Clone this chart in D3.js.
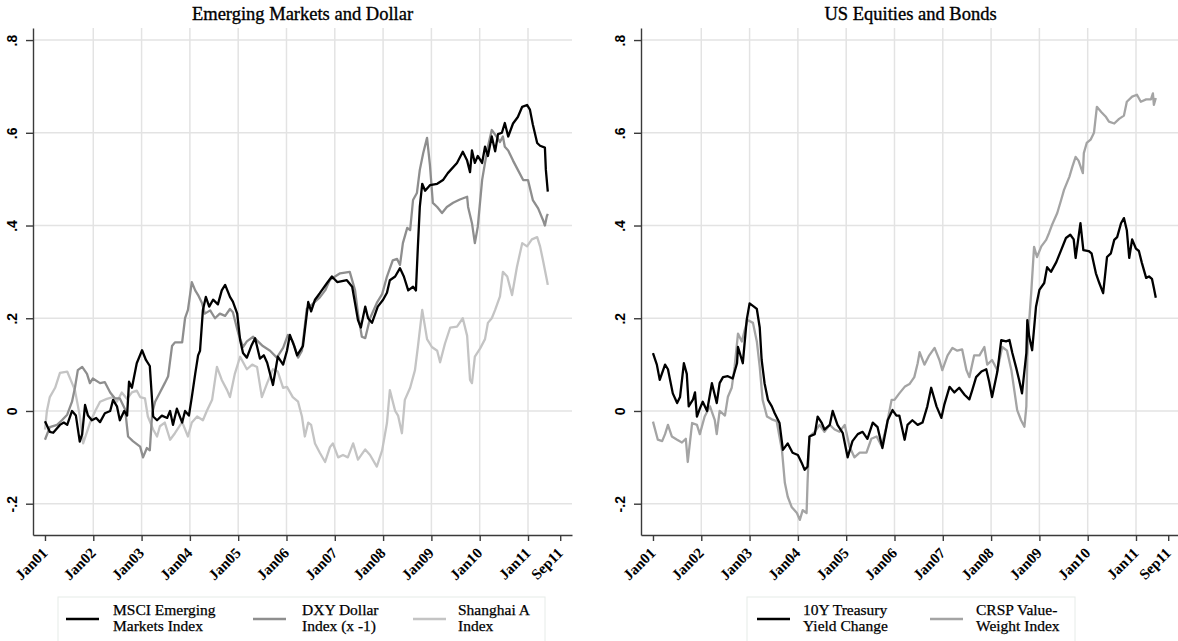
<!DOCTYPE html>
<html>
<head>
<meta charset="utf-8">
<script src="https://cdn.jsdelivr.net/npm/d3@7"></script>
<style>
  body { margin: 0; background: #fff; }
  svg { display: block; }
</style>
</head>
<body>
<svg id="chart" width="1178" height="641"></svg>
<script>
// x axis ticks (decimal years) and their labels
var xTickValues = [2001, 2002, 2003, 2004, 2005, 2006, 2007, 2008, 2009, 2010, 2011, 2011.667];
var xTickLabels = ["Jan01", "Jan02", "Jan03", "Jan04", "Jan05", "Jan06", "Jan07", "Jan08", "Jan09", "Jan10", "Jan11", "Sep11"];
var yTickValues = [-0.2, 0, 0.2, 0.4, 0.6, 0.8];
var yTickLabels = ["-.2", "0", ".2", ".4", ".6", ".8"];

// series: [decimal year, value]
var msci = [
  [2001.00, -0.022], [2001.10, -0.045], [2001.17, -0.047], [2001.31, -0.03], [2001.39, -0.025],
  [2001.46, -0.03], [2001.56, 0.0], [2001.64, -0.01], [2001.72, -0.066], [2001.77, -0.05],
  [2001.83, 0.013], [2001.89, -0.01], [2001.97, -0.02], [2002.06, -0.015], [2002.14, -0.024],
  [2002.24, -0.005], [2002.35, 0.0], [2002.41, 0.024], [2002.49, 0.01], [2002.55, -0.02],
  [2002.64, 0.0], [2002.70, -0.01], [2002.74, 0.063], [2002.80, 0.05], [2002.90, 0.103],
  [2003.01, 0.131], [2003.09, 0.11], [2003.17, 0.097], [2003.24, -0.012], [2003.32, -0.02],
  [2003.42, -0.01], [2003.53, -0.015], [2003.59, 0.0], [2003.65, -0.03], [2003.73, 0.005],
  [2003.84, -0.025], [2003.90, 0.0], [2003.98, -0.01], [2004.04, 0.03], [2004.11, 0.08],
  [2004.17, 0.12], [2004.21, 0.13], [2004.27, 0.218], [2004.33, 0.246], [2004.40, 0.225],
  [2004.48, 0.24], [2004.58, 0.23], [2004.66, 0.26], [2004.73, 0.272], [2004.83, 0.246],
  [2004.89, 0.236], [2004.98, 0.21], [2005.04, 0.153], [2005.10, 0.125], [2005.18, 0.115],
  [2005.27, 0.14], [2005.35, 0.157], [2005.45, 0.113], [2005.53, 0.12], [2005.60, 0.104],
  [2005.72, 0.056], [2005.82, 0.117], [2005.93, 0.1], [2006.01, 0.13], [2006.07, 0.164],
  [2006.16, 0.14], [2006.22, 0.12], [2006.34, 0.14], [2006.45, 0.235], [2006.51, 0.215],
  [2006.59, 0.24], [2006.69, 0.254], [2006.84, 0.276], [2006.94, 0.29], [2007.05, 0.278],
  [2007.15, 0.28], [2007.25, 0.282], [2007.36, 0.268], [2007.42, 0.232], [2007.48, 0.196],
  [2007.54, 0.18], [2007.63, 0.225], [2007.69, 0.2], [2007.77, 0.19], [2007.89, 0.225],
  [2008.00, 0.24], [2008.08, 0.255], [2008.14, 0.282], [2008.25, 0.29], [2008.35, 0.308],
  [2008.43, 0.29], [2008.52, 0.26], [2008.62, 0.268], [2008.68, 0.26], [2008.72, 0.354],
  [2008.76, 0.44], [2008.81, 0.49], [2008.87, 0.475], [2008.97, 0.487], [2009.12, 0.49],
  [2009.24, 0.498], [2009.34, 0.513], [2009.53, 0.535], [2009.65, 0.559], [2009.74, 0.54],
  [2009.80, 0.515], [2009.84, 0.562], [2009.90, 0.535], [2009.96, 0.55], [2010.05, 0.535],
  [2010.11, 0.57], [2010.17, 0.55], [2010.25, 0.592], [2010.32, 0.56], [2010.38, 0.597],
  [2010.46, 0.6], [2010.52, 0.621], [2010.59, 0.592], [2010.69, 0.62], [2010.79, 0.634],
  [2010.88, 0.656], [2010.98, 0.66], [2011.04, 0.65], [2011.10, 0.618], [2011.19, 0.578],
  [2011.25, 0.572], [2011.35, 0.568], [2011.37, 0.52], [2011.41, 0.473]
];

var dxy = [
  [2001.00, -0.062], [2001.10, -0.035], [2001.25, -0.03], [2001.35, -0.02], [2001.46, -0.008],
  [2001.56, 0.02], [2001.62, 0.05], [2001.68, 0.088], [2001.77, 0.095], [2001.87, 0.08],
  [2001.93, 0.06], [2001.99, 0.07], [2002.14, 0.06], [2002.24, 0.062], [2002.35, 0.04],
  [2002.45, 0.027], [2002.55, 0.027], [2002.66, 0.003], [2002.72, -0.055], [2002.82, -0.065],
  [2002.97, -0.077], [2003.03, -0.1], [2003.11, -0.08], [2003.17, -0.085], [2003.22, -0.005],
  [2003.28, 0.02], [2003.38, 0.04], [2003.48, 0.06], [2003.55, 0.075], [2003.63, 0.14],
  [2003.69, 0.148], [2003.84, 0.148], [2003.90, 0.2], [2003.96, 0.218], [2004.04, 0.278],
  [2004.11, 0.26], [2004.17, 0.25], [2004.25, 0.233], [2004.31, 0.21], [2004.42, 0.217],
  [2004.52, 0.2], [2004.62, 0.21], [2004.73, 0.205], [2004.83, 0.22], [2004.89, 0.213],
  [2005.00, 0.168], [2005.10, 0.138], [2005.18, 0.15], [2005.31, 0.16], [2005.41, 0.15],
  [2005.51, 0.14], [2005.66, 0.13], [2005.80, 0.115], [2005.93, 0.136], [2006.03, 0.164],
  [2006.13, 0.15], [2006.24, 0.115], [2006.32, 0.13], [2006.42, 0.22], [2006.53, 0.23],
  [2006.69, 0.245], [2006.80, 0.26], [2006.90, 0.283], [2007.11, 0.297], [2007.31, 0.3],
  [2007.42, 0.26], [2007.48, 0.21], [2007.56, 0.16], [2007.63, 0.157], [2007.73, 0.2],
  [2007.87, 0.233], [2007.98, 0.252], [2008.08, 0.29], [2008.20, 0.325], [2008.29, 0.328],
  [2008.35, 0.315], [2008.41, 0.362], [2008.50, 0.395], [2008.56, 0.39], [2008.62, 0.455],
  [2008.70, 0.47], [2008.76, 0.52], [2008.83, 0.556], [2008.91, 0.589], [2008.97, 0.53],
  [2009.03, 0.449], [2009.12, 0.44], [2009.22, 0.427], [2009.32, 0.44], [2009.45, 0.449],
  [2009.59, 0.456], [2009.74, 0.462], [2009.76, 0.44], [2009.84, 0.405], [2009.90, 0.362],
  [2009.96, 0.397], [2010.05, 0.498], [2010.11, 0.535], [2010.17, 0.57], [2010.25, 0.606],
  [2010.36, 0.59], [2010.42, 0.58], [2010.48, 0.592], [2010.52, 0.57], [2010.59, 0.562],
  [2010.69, 0.54], [2010.79, 0.52], [2010.90, 0.498], [2011.00, 0.498], [2011.10, 0.455],
  [2011.21, 0.437], [2011.31, 0.412], [2011.35, 0.4], [2011.39, 0.42], [2011.41, 0.425]
];

var shanghai = [
  [2001.00, -0.04], [2001.04, 0.0], [2001.10, 0.03], [2001.21, 0.05], [2001.31, 0.082],
  [2001.46, 0.085], [2001.56, 0.06], [2001.62, 0.045], [2001.72, -0.01], [2001.79, -0.07],
  [2001.87, -0.045], [2001.93, -0.026], [2002.04, 0.0], [2002.14, 0.02], [2002.28, 0.026],
  [2002.41, 0.03], [2002.49, 0.02], [2002.59, 0.04], [2002.70, 0.026], [2002.80, 0.04],
  [2002.90, 0.044], [2002.97, 0.03], [2003.07, 0.027], [2003.13, -0.012], [2003.24, -0.04],
  [2003.32, -0.055], [2003.38, -0.033], [2003.48, -0.025], [2003.59, -0.062], [2003.69, -0.048],
  [2003.84, -0.024], [2003.96, -0.055], [2004.04, -0.025], [2004.15, -0.012], [2004.27, -0.02],
  [2004.35, 0.0], [2004.46, 0.024], [2004.56, 0.095], [2004.66, 0.067], [2004.77, 0.045],
  [2004.83, 0.03], [2004.93, 0.08], [2005.04, 0.117], [2005.18, 0.09], [2005.29, 0.1],
  [2005.39, 0.095], [2005.49, 0.03], [2005.60, 0.06], [2005.72, 0.09], [2005.82, 0.085],
  [2005.93, 0.05], [2006.01, 0.052], [2006.13, 0.03], [2006.24, 0.02], [2006.32, -0.012],
  [2006.38, -0.055], [2006.45, -0.025], [2006.51, -0.03], [2006.59, -0.07], [2006.69, -0.09],
  [2006.80, -0.11], [2006.90, -0.078], [2006.96, -0.07], [2007.07, -0.1], [2007.17, -0.095],
  [2007.27, -0.1], [2007.38, -0.07], [2007.48, -0.105], [2007.63, -0.083], [2007.73, -0.095],
  [2007.87, -0.12], [2007.98, -0.085], [2008.08, -0.026], [2008.14, 0.045], [2008.25, 0.0],
  [2008.31, -0.01], [2008.39, -0.048], [2008.45, 0.024], [2008.56, 0.05], [2008.66, 0.088],
  [2008.72, 0.138], [2008.81, 0.218], [2008.91, 0.155], [2009.01, 0.138], [2009.12, 0.13],
  [2009.18, 0.105], [2009.28, 0.145], [2009.39, 0.18], [2009.53, 0.182], [2009.65, 0.2],
  [2009.74, 0.162], [2009.80, 0.067], [2009.84, 0.06], [2009.90, 0.117], [2010.01, 0.135],
  [2010.11, 0.155], [2010.17, 0.19], [2010.25, 0.2], [2010.32, 0.218], [2010.42, 0.247],
  [2010.48, 0.3], [2010.57, 0.29], [2010.67, 0.25], [2010.77, 0.31], [2010.88, 0.362],
  [2010.98, 0.355], [2011.08, 0.37], [2011.19, 0.375], [2011.25, 0.355], [2011.31, 0.325],
  [2011.39, 0.283], [2011.41, 0.272]
];

var treasury = [
  [2001.00, 0.125], [2001.08, 0.1], [2001.14, 0.067], [2001.25, 0.1], [2001.31, 0.09],
  [2001.41, 0.038], [2001.50, 0.017], [2001.56, 0.03], [2001.64, 0.103], [2001.70, 0.08],
  [2001.74, 0.01], [2001.83, 0.025], [2001.87, 0.04], [2001.91, -0.012], [2001.97, 0.005],
  [2002.03, 0.02], [2002.12, 0.0], [2002.22, 0.06], [2002.32, 0.017], [2002.38, 0.06],
  [2002.45, 0.073], [2002.55, 0.075], [2002.65, 0.07], [2002.74, 0.103], [2002.76, 0.138],
  [2002.86, 0.103], [2002.94, 0.196], [2003.00, 0.232], [2003.09, 0.225], [2003.15, 0.22],
  [2003.21, 0.18], [2003.25, 0.11], [2003.31, 0.06], [2003.38, 0.024], [2003.46, 0.01],
  [2003.52, -0.005], [2003.62, -0.026], [2003.69, -0.084], [2003.79, -0.07], [2003.89, -0.09],
  [2004.00, -0.095], [2004.08, -0.112], [2004.14, -0.127], [2004.20, -0.12], [2004.24, -0.055],
  [2004.35, -0.05], [2004.41, -0.012], [2004.49, -0.025], [2004.55, -0.04], [2004.66, -0.03],
  [2004.72, 0.0], [2004.82, -0.03], [2004.93, -0.048], [2005.03, -0.1], [2005.13, -0.065],
  [2005.24, -0.05], [2005.34, -0.045], [2005.44, -0.06], [2005.55, -0.025], [2005.65, -0.035],
  [2005.75, -0.08], [2005.86, -0.02], [2005.96, 0.002], [2006.04, -0.01], [2006.10, -0.01],
  [2006.21, -0.062], [2006.27, -0.03], [2006.37, -0.02], [2006.48, -0.03], [2006.58, -0.025],
  [2006.68, 0.01], [2006.76, 0.05], [2006.87, 0.01], [2006.97, -0.015], [2007.03, 0.013],
  [2007.14, 0.052], [2007.24, 0.04], [2007.34, 0.05], [2007.45, 0.035], [2007.55, 0.025],
  [2007.61, 0.045], [2007.69, 0.073], [2007.80, 0.085], [2007.90, 0.09], [2007.96, 0.063],
  [2008.02, 0.03], [2008.13, 0.085], [2008.21, 0.153], [2008.31, 0.15], [2008.38, 0.153],
  [2008.44, 0.125], [2008.52, 0.093], [2008.58, 0.067], [2008.64, 0.038], [2008.73, 0.125],
  [2008.75, 0.196], [2008.79, 0.16], [2008.85, 0.131], [2008.93, 0.225], [2009.00, 0.261],
  [2009.10, 0.276], [2009.16, 0.31], [2009.24, 0.3], [2009.35, 0.321], [2009.45, 0.347],
  [2009.55, 0.373], [2009.64, 0.38], [2009.71, 0.37], [2009.75, 0.33], [2009.81, 0.375],
  [2009.85, 0.405], [2009.91, 0.347], [2010.02, 0.345], [2010.08, 0.34], [2010.17, 0.297],
  [2010.24, 0.276], [2010.32, 0.254], [2010.40, 0.332], [2010.48, 0.34], [2010.55, 0.369],
  [2010.61, 0.375], [2010.69, 0.405], [2010.75, 0.416], [2010.81, 0.39], [2010.86, 0.33],
  [2010.92, 0.37], [2011.00, 0.35], [2011.06, 0.345], [2011.12, 0.32], [2011.21, 0.287],
  [2011.27, 0.29], [2011.33, 0.285], [2011.37, 0.265], [2011.41, 0.244]
];

var crsp = [
  [2001.00, -0.023], [2001.10, -0.062], [2001.19, -0.065], [2001.25, -0.05], [2001.31, -0.03],
  [2001.39, -0.055], [2001.50, -0.062], [2001.60, -0.068], [2001.68, -0.06], [2001.72, -0.11],
  [2001.81, -0.026], [2001.91, -0.03], [2001.97, -0.05], [2002.07, -0.012], [2002.18, 0.01],
  [2002.28, -0.02], [2002.32, -0.05], [2002.38, 0.0], [2002.49, -0.01], [2002.55, 0.03],
  [2002.63, 0.05], [2002.69, 0.095], [2002.76, 0.167], [2002.84, 0.15], [2002.90, 0.175],
  [2002.96, 0.196], [2003.07, 0.19], [2003.15, 0.15], [2003.21, 0.095], [2003.27, 0.024],
  [2003.36, -0.012], [2003.46, -0.018], [2003.56, -0.022], [2003.67, -0.084], [2003.73, -0.155],
  [2003.79, -0.185], [2003.87, -0.207], [2003.98, -0.22], [2004.04, -0.235], [2004.10, -0.214],
  [2004.18, -0.22], [2004.20, -0.155], [2004.24, -0.055], [2004.35, -0.045], [2004.45, -0.03],
  [2004.55, -0.045], [2004.66, -0.03], [2004.76, -0.04], [2004.86, -0.045], [2004.97, -0.03],
  [2005.07, -0.077], [2005.17, -0.1], [2005.28, -0.09], [2005.42, -0.09], [2005.52, -0.06],
  [2005.63, -0.055], [2005.73, -0.075], [2005.83, -0.035], [2005.94, 0.024], [2006.00, 0.024],
  [2006.10, 0.038], [2006.21, 0.052], [2006.31, 0.058], [2006.41, 0.073], [2006.48, 0.103],
  [2006.52, 0.127], [2006.62, 0.1], [2006.72, 0.12], [2006.83, 0.136], [2006.93, 0.11],
  [2006.99, 0.088], [2007.10, 0.12], [2007.20, 0.136], [2007.30, 0.13], [2007.40, 0.133],
  [2007.49, 0.088], [2007.55, 0.073], [2007.65, 0.12], [2007.76, 0.12], [2007.86, 0.138],
  [2007.92, 0.1], [2008.02, 0.11], [2008.13, 0.088], [2008.23, 0.138], [2008.33, 0.13],
  [2008.42, 0.088], [2008.48, 0.045], [2008.54, 0.002], [2008.62, -0.02], [2008.69, -0.034],
  [2008.73, 0.01], [2008.75, 0.117], [2008.79, 0.196], [2008.83, 0.254], [2008.89, 0.354],
  [2008.95, 0.332], [2009.04, 0.355], [2009.14, 0.369], [2009.20, 0.384], [2009.26, 0.401],
  [2009.37, 0.427], [2009.45, 0.455], [2009.51, 0.477], [2009.62, 0.505], [2009.68, 0.526],
  [2009.75, 0.548], [2009.81, 0.54], [2009.90, 0.513], [2009.92, 0.556], [2009.98, 0.578],
  [2010.06, 0.585], [2010.13, 0.6], [2010.19, 0.656], [2010.28, 0.645], [2010.38, 0.634],
  [2010.44, 0.624], [2010.55, 0.62], [2010.65, 0.63], [2010.75, 0.637], [2010.81, 0.667],
  [2010.92, 0.678], [2011.02, 0.682], [2011.10, 0.667], [2011.21, 0.672], [2011.31, 0.672],
  [2011.35, 0.685], [2011.37, 0.66], [2011.41, 0.675]
];

var panels = [
  {
    title: "Emerging Markets and Dollar",
    left: 33,
    series: [
      { data: shanghai, color: "#c4c4c4", label: ["Shanghai A", "Index"] },
      { data: dxy, color: "#8e8e8e", label: ["DXY Dollar", "Index (x -1)"] },
      { data: msci, color: "#000000", label: ["MSCI Emerging", "Markets Index"] }
    ],
    legendOrder: [2, 1, 0],
    legendBox: [58, 545],
    legendLines: [66, 253, 413],
    legendText: [113, 302, 458]
  },
  {
    title: "US Equities and Bonds",
    left: 641,
    series: [
      { data: crsp, color: "#a4a4a4", label: ["CRSP Value-", "Weight Index"] },
      { data: treasury, color: "#000000", label: ["10Y Treasury", "Yield Change"] }
    ],
    legendOrder: [1, 0],
    legendBox: [747, 1075],
    legendLines: [757, 930],
    legendText: [803, 976]
  }
];

var svg = d3.select("#chart");
var plotTop = 28, plotBottom = 535, plotWidth = 539;
var serif = "'Liberation Serif', 'Times New Roman', serif";

function drawPanel(p) {
  var x = d3.scaleLinear().domain([2000.752, 2011.911]).range([p.left, p.left + plotWidth]);
  var y = d3.scaleLinear().domain([-0.2675, 0.826]).range([plotBottom, plotTop]);
  var g = svg.append("g");

  // Horizontal grid lines
  g.selectAll("line.hgrid")
    .data(yTickValues)
    .enter()
    .append("line")
    .attr("class", "hgrid")
    .attr("x1", p.left)
    .attr("x2", p.left + plotWidth)
    .attr("y1", function (d) { return y(d); })
    .attr("y2", function (d) { return y(d); })
    .style("stroke", "#e3e3e3")
    .style("stroke-width", 1.5);

  // Vertical grid lines, only at the inner January ticks
  g.selectAll("line.vgrid")
    .data(xTickValues.slice(1, 11))
    .enter()
    .append("line")
    .attr("class", "vgrid")
    .attr("x1", function (d) { return x(d); })
    .attr("x2", function (d) { return x(d); })
    .attr("y1", plotTop)
    .attr("y2", plotBottom)
    .style("stroke", "#e3e3e3")
    .style("stroke-width", 1.5);

  // Series lines
  var line = d3.line()
    .x(function (d) { return x(d[0]); })
    .y(function (d) { return y(d[1]); });

  g.selectAll("path.series")
    .data(p.series)
    .enter()
    .append("path")
    .attr("class", "series")
    .attr("d", function (s) { return line(s.data); })
    .style("fill", "none")
    .style("stroke", function (s) { return s.color; })
    .style("stroke-width", 2.3)
    .style("stroke-linejoin", "round");

  // Y axis
  var yAxis = g.append("g")
    .attr("transform", "translate(" + p.left + ",0)")
    .call(d3.axisLeft(y)
      .tickValues(yTickValues)
      .tickFormat(function (d, i) { return yTickLabels[i]; })
      .tickSize(7)
      .tickSizeOuter(0));
  yAxis.select(".domain").style("stroke", "#3a3a3a").style("stroke-width", 1.4);
  yAxis.selectAll(".tick line").style("stroke", "#3a3a3a").style("stroke-width", 1.4);
  yAxis.selectAll(".tick text")
    .attr("x", null)
    .attr("dy", null)
    .attr("text-anchor", "middle")
    .attr("transform", "translate(-16,0) rotate(-90)")
    .style("font-family", "'Liberation Sans', Arial, sans-serif")
    .style("font-weight", "bold")
    .style("font-size", "14px")
    .style("fill", "#000");

  // X axis
  var xAxis = g.append("g")
    .attr("transform", "translate(0," + plotBottom + ")")
    .call(d3.axisBottom(x)
      .tickValues(xTickValues)
      .tickFormat(function (d, i) { return xTickLabels[i]; })
      .tickSize(6)
      .tickSizeOuter(0));
  xAxis.select(".domain").style("stroke", "#3a3a3a").style("stroke-width", 1.4);
  xAxis.selectAll(".tick line").style("stroke", "#3a3a3a").style("stroke-width", 1.4);
  xAxis.selectAll(".tick text")
    .attr("y", null)
    .attr("dy", null)
    .attr("text-anchor", "end")
    .attr("transform", "translate(3,19) rotate(-45)")
    .style("font-family", serif)
    .style("font-weight", "bold")
    .style("font-size", "15px")
    .style("fill", "#000");

  // Title
  g.append("text")
    .attr("x", p.left + plotWidth / 2)
    .attr("y", 20)
    .attr("text-anchor", "middle")
    .text(p.title)
    .style("font-family", serif)
    .style("font-size", "18.5px")
    .style("fill", "#000")
    .style("stroke", "#000")
    .style("stroke-width", 0.35);

  // Legend
  g.append("rect")
    .attr("x", p.legendBox[0])
    .attr("y", 597)
    .attr("width", p.legendBox[1] - p.legendBox[0])
    .attr("height", 80)
    .style("fill", "#fff")
    .style("stroke", "#e6ebe8")
    .style("stroke-width", 1);

  var items = p.legendOrder.map(function (k) { return p.series[k]; });
  var item = g.selectAll("g.legend")
    .data(items)
    .enter()
    .append("g")
    .attr("class", "legend");

  item.append("line")
    .attr("x1", function (d, i) { return p.legendLines[i]; })
    .attr("x2", function (d, i) { return p.legendLines[i] + 33; })
    .attr("y1", 619)
    .attr("y2", 619)
    .style("stroke", function (d) { return d.color; })
    .style("stroke-width", 2.5);

  item.append("text")
    .attr("x", function (d, i) { return p.legendText[i]; })
    .attr("y", 615)
    .text(function (d) { return d.label[0]; })
    .style("font-family", serif)
    .style("font-size", "15.5px")
    .style("fill", "#000")
    .style("stroke", "#000")
    .style("stroke-width", 0.25);

  item.append("text")
    .attr("x", function (d, i) { return p.legendText[i]; })
    .attr("y", 631)
    .text(function (d) { return d.label[1]; })
    .style("font-family", serif)
    .style("font-size", "15.5px")
    .style("fill", "#000")
    .style("stroke", "#000")
    .style("stroke-width", 0.25);
}

panels.forEach(drawPanel);
</script>
</body>
</html>
